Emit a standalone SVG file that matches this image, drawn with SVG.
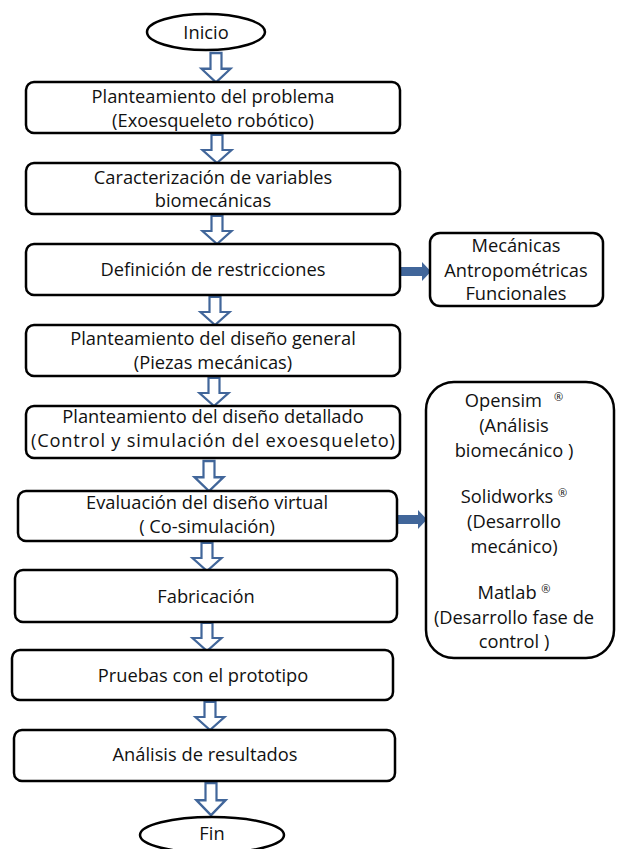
<svg xmlns="http://www.w3.org/2000/svg" width="618" height="849" viewBox="0 0 618 849">
<style>
.box{fill:#fff;stroke:#000;stroke-width:2.5}
.t{font-family:"Open Sans","Liberation Sans",sans-serif;font-size:18.3px;fill:#111;text-anchor:middle}
.ba{fill:#fff;stroke:#41669A;stroke-width:2.2;stroke-linejoin:miter}
.sa{fill:#41669A}
.r{font-size:11px}
</style>
<defs>
<path id="darr" d="M-5.5,0 H5.5 V15 H14.5 L0,28 L-14.5,15 H-5.5 Z"/>
</defs>
<rect width="618" height="849" fill="#fff"/>
<g id="connectors">
<use href="#darr" class="ba" transform="translate(216,53) scale(1,1.05)"/>
<use href="#darr" class="ba" transform="translate(217,135)"/>
<use href="#darr" class="ba" transform="translate(217,216)"/>
<use href="#darr" class="ba" transform="translate(215,297)"/>
<use href="#darr" class="ba" transform="translate(214,378)"/>
<use href="#darr" class="ba" transform="translate(209,461) scale(1,1.08)"/>
<use href="#darr" class="ba" transform="translate(207,543)"/>
<use href="#darr" class="ba" transform="translate(207,623)"/>
<use href="#darr" class="ba" transform="translate(210,702)"/>
<use href="#darr" class="ba" transform="translate(211,783) scale(1,1.15)"/>
<path class="sa" d="M401,267 H422 V262 L431,271.5 L422,281 V276 H401 Z"/>
<path class="sa" d="M398,515 H418 V510 L427,519.5 L418,529 V524 H398 Z"/>
</g>
<g id="inicio"><ellipse class="box" cx="206" cy="32" rx="59" ry="18"/><text class="t" x="206" y="39">Inicio</text></g>
<g id="n1"><rect class="box" x="26" y="82" width="374" height="51" rx="8"/><text class="t" x="213" y="103">Planteamiento del problema</text><text class="t" x="213" y="127">(Exoesqueleto robótico)</text></g>
<g id="n2"><rect class="box" x="26" y="163" width="374" height="51" rx="8"/><text class="t" x="213" y="184">Caracterización de variables</text><text class="t" x="213" y="207">biomecánicas</text></g>
<g id="n3"><rect class="box" x="26" y="244" width="374" height="51" rx="8"/><text class="t" x="213" y="276">Definición de restricciones</text></g>
<g id="n4"><rect class="box" x="26" y="325" width="374" height="51" rx="8"/><text class="t" x="213" y="345">Planteamiento del diseño general</text><text class="t" x="213" y="369">(Piezas mecánicas)</text></g>
<g id="n5"><rect class="box" x="26" y="406" width="374" height="52" rx="8"/><text class="t" x="213" y="423">Planteamiento del diseño detallado</text><text class="t" x="213" y="447" textLength="364" lengthAdjust="spacing">(Control y simulación del exoesqueleto)</text></g>
<g id="n6"><rect class="box" x="18" y="491" width="379" height="50" rx="8"/><text class="t" x="207" y="509">Evaluación del diseño virtual</text><text class="t" x="207" y="533">( Co-simulación)</text></g>
<g id="n7"><rect class="box" x="15" y="570" width="382" height="52" rx="8"/><text class="t" x="206" y="603">Fabricación</text></g>
<g id="n8"><rect class="box" x="12" y="650" width="381" height="50" rx="8"/><text class="t" x="203" y="682">Pruebas con el prototipo</text></g>
<g id="n9"><rect class="box" x="14" y="730" width="381" height="51" rx="8"/><text class="t" x="205" y="761">Análisis de resultados</text></g>
<g id="fin"><ellipse class="box" cx="212" cy="835" rx="72" ry="18"/><text class="t" x="212" y="840">Fin</text></g>
<g id="side1"><rect class="box" x="430" y="233" width="173" height="73" rx="10"/><text class="t" x="516" y="252">Mecánicas</text><text class="t" x="516" y="277">Antropométricas</text><text class="t" x="516" y="300">Funcionales</text></g>
<g id="side2"><rect class="box" x="426" y="382" width="188" height="276" rx="28"/>
<text class="t" x="514" y="407">Opensim<tspan class="r" dx="12" dy="-6">®</tspan></text>
<text class="t" x="514" y="432">(Análisis</text>
<text class="t" x="514" y="457">biomecánico )</text>
<text class="t" x="514" y="503">Solidworks <tspan class="r" dy="-6">®</tspan></text>
<text class="t" x="514" y="528">(Desarrollo</text>
<text class="t" x="514" y="553">mecánico)</text>
<text class="t" x="514" y="599">Matlab <tspan class="r" dy="-6">®</tspan></text>
<text class="t" x="514" y="624">(Desarrollo fase de</text>
<text class="t" x="514" y="648">control )</text>
</g>
</svg>
